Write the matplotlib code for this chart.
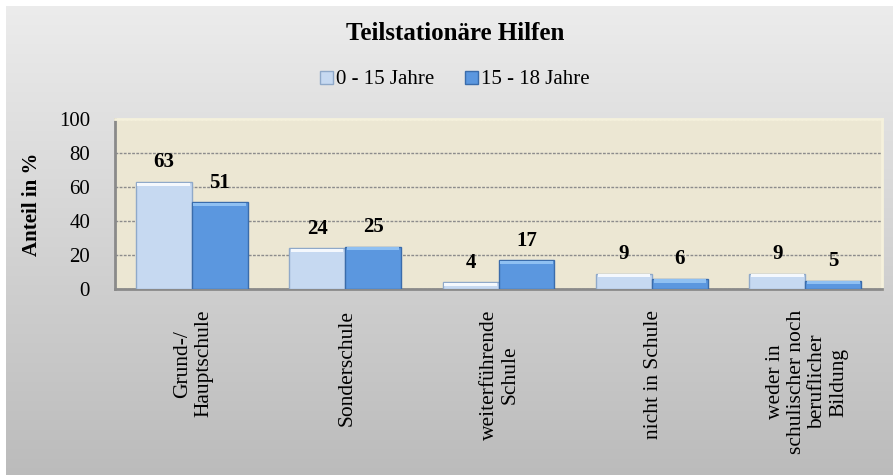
import numpy as np
import matplotlib
matplotlib.use("Agg")
import matplotlib.pyplot as plt
from matplotlib.patches import Patch
from matplotlib.transforms import blended_transform_factory

categories = ["Grund-/\nHauptschule", "Sonderschule", "weiterführende\nSchule",
              "nicht in Schule", "weder in\nschulischer noch\nberuflicher\nBildung"]
series_names = ["0 - 15 Jahre", "15 - 18 Jahre"]
values_0_15 = [63, 24, 4, 9, 9]
values_15_18 = [51, 25, 17, 6, 5]
yticks = [0, 20, 40, 60, 80, 100]

plt.rcParams['font.family'] = ['Liberation Serif', 'DejaVu Serif']

W, H = 893, 475
fig = plt.figure(figsize=(W/100, H/100), dpi=100)
fig.patch.set_facecolor('white')

# gray gradient panel
bg = fig.add_axes([6/W, 0, 1 - 6/W, 1 - 6/H], zorder=-10)
grad = np.linspace(0, 1, 256).reshape(-1, 1)
top = np.array([0.925, 0.925, 0.925])
bot = np.array([0.735, 0.735, 0.735])
img = top[None, None, :] * (1 - grad[:, :, None]) + bot[None, None, :] * grad[:, :, None]
bg.imshow(img, aspect='auto', extent=[0, 1, 0, 1], origin='upper')
bg.set_axis_off()

ax = fig.add_axes([115/W, 1 - 289/H, (882-115)/W, (289-119)/H])
ax.set_facecolor('#ece7d3')

x = np.arange(len(categories))
w = 0.365
c1, e1, h1 = '#c6d9f1', '#8fa9c9', '#f4f8fd'
c2, e2, h2 = '#5b97df', '#3a6cab', '#8fc0f2'
cap = 1.8
b1 = ax.bar(x - w/2, values_0_15, w, color=c1, edgecolor=e1, linewidth=1.0, zorder=3)
b2 = ax.bar(x + w/2, values_15_18, w, color=c2, edgecolor=e2, linewidth=1.0, zorder=3)
# bevel highlight on the top of each bar
ax.bar(x - w/2, [cap] * len(x), w * 0.94, bottom=[v - cap - 0.4 for v in values_0_15],
       color=h1, linewidth=0, zorder=4)
ax.bar(x + w/2, [cap] * len(x), w * 0.94, bottom=[v - cap - 0.4 for v in values_15_18],
       color=h2, linewidth=0, zorder=4)

for bars, vals in ((b1, values_0_15), (b2, values_15_18)):
    for r, v in zip(bars, vals):
        ax.annotate(str(v), (r.get_x() + r.get_width()/2, v), xytext=(0, 14),
                    textcoords='offset points', ha='center', va='center',
                    fontsize=15, fontweight='bold', color='black', zorder=5)

ax.set_xlim(-0.5, len(categories) - 0.5)
ax.set_ylim(0, 100)
ax.set_yticks(yticks)
ax.set_yticklabels([str(t) for t in yticks], fontsize=15)
ax.tick_params(axis='y', length=0, pad=18)
ax.set_xticks(x)
ax.set_xticklabels([])
ax.tick_params(axis='x', length=0)
trans = blended_transform_factory(ax.transData, ax.transAxes)
for xi, lab in zip(x, categories):
    ax.text(xi + 0.01, -0.123, lab, transform=trans, rotation=90, ha='center', va='top',
            multialignment='center', fontsize=15.5, linespacing=1.15)

ax.yaxis.grid(True, color='#8c8c8c', linestyle=(0, (2, 1)), linewidth=1.0, zorder=1)
ax.set_axisbelow(True)
for s in ['left', 'bottom']:
    ax.spines[s].set_color('#8a8a8a')
    ax.spines[s].set_linewidth(2)
for s in ['top', 'right']:
    ax.spines[s].set_color('#f5f1dc')
    ax.spines[s].set_linewidth(2)

ax.set_ylabel('Anteil in %', fontsize=15, fontweight='bold')
ax.yaxis.set_label_coords((42-115)/(882-115), 0.5)

fig.text(455/W, 1 - 33/H, 'Teilstationäre Hilfen', fontsize=18, fontweight='bold',
         ha='center', va='center')

handles = [Patch(facecolor=c1, edgecolor=e1), Patch(facecolor=c2, edgecolor=e2)]
leg = fig.legend(handles, series_names, loc='center', bbox_to_anchor=(455/W, 1 - 80/H),
                 ncol=2, frameon=False, fontsize=15, handlelength=0.6, handleheight=0.6,
                 handletextpad=0.15, columnspacing=1.5)

fig.savefig('out.png', dpi=100, facecolor='white')
